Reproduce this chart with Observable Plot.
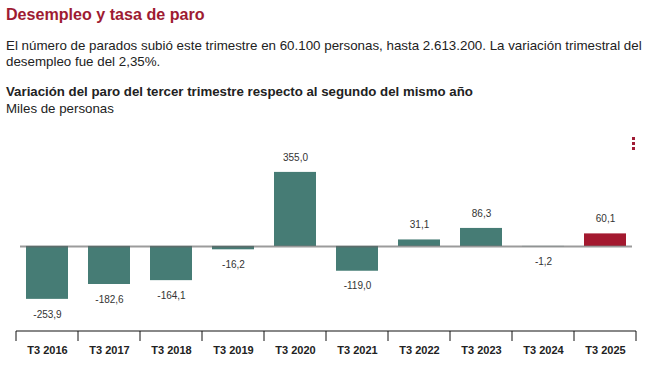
<!DOCTYPE html>
<html><head><meta charset="utf-8">
<script src="https://cdn.jsdelivr.net/npm/d3@7"></script>
<script src="https://cdn.jsdelivr.net/npm/@observablehq/plot@0.6"></script>
<style>
body{margin:0;background:#fff;font-family:"Liberation Sans",Arial,sans-serif;}
#head{position:relative;height:120px;width:654px;}
.t{position:absolute;left:6px;white-space:nowrap;color:#222;}
.dot{position:absolute;left:632px;width:3px;height:3px;background:#a01c35;}
#chart svg{display:block;}
</style></head><body>
<div id="head">
<div class="t" style="top:4px;font-size:16.1px;line-height:20px;font-weight:bold;color:#9e1b32">Desempleo y tasa de paro</div>
<div class="t" style="top:38px;font-size:13.35px;line-height:16px;">El número de parados subió este trimestre en 60.100 personas, hasta 2.613.200. La variación trimestral del<br>desempleo fue del 2,35%.</div>
<div class="t" style="top:84px;font-size:13.25px;line-height:16px;font-weight:bold;">Variación del paro del tercer trimestre respecto al segundo del mismo año</div>
<div class="t" style="top:101px;font-size:13.3px;line-height:16px;">Miles de personas</div>
</div>
<div class="dot" style="top:137px"></div>
<div class="dot" style="top:142px"></div>
<div class="dot" style="top:147px"></div>
<div id="chart"></div>
<script>
const years = ["T3 2016","T3 2017","T3 2018","T3 2019","T3 2020","T3 2021","T3 2022","T3 2023","T3 2024","T3 2025"];
const values = [-253.9, -182.6, -164.1, -16.2, 355.0, -119.0, 31.1, 86.3, -1.2, 60.1];
const highlight = "T3 2025";
const teal = "#467c75", red = "#a3192f";
const fmt = v => d3.format(".1f")(v).replace(".", ",").replace("−", "-");
const data = years.map((y, i) => ({year: y, value: values[i], label: fmt(values[i]), color: y === highlight ? red : teal}));

function bottomAxis(index, scales, vals, dims) {
  const x = scales.x;
  const bw = x.bandwidth();
  const pos = years.map(d => x(d));
  const step = pos[1] - pos[0];
  const gap = (step - bw) / 2;
  const bounds = pos.map(p => p - gap).concat([pos[pos.length - 1] + bw + gap]);
  const yb = dims.height - dims.marginBottom;
  const g = d3.create("svg:g");
  g.append("line").attr("x1", bounds[0]).attr("x2", bounds[bounds.length - 1])
    .attr("y1", yb).attr("y2", yb).attr("stroke", "#888").attr("stroke-width", 2);
  g.selectAll("line.tk").data(bounds).join("line").attr("class", "tk")
    .attr("x1", d => d).attr("x2", d => d).attr("y1", yb).attr("y2", yb + 10)
    .attr("stroke", "#111").attr("stroke-width", 1);
  return g.node();
}

const chart = Plot.plot({
  width: 654, height: 246,
  marginLeft: 16, marginRight: 18, marginTop: 20, marginBottom: 35,
  x: {domain: years, paddingInner: 0.32, paddingOuter: 0.16, axis: null},
  y: {domain: [-408, 508], axis: null},
  color: {type: "identity"},
  style: {fontFamily: '"Liberation Sans", Arial, sans-serif', background: "white", overflow: "visible"},
  marks: [
    Plot.barY(data, {x: "year", y: "value", fill: "color"}),
    Plot.ruleY([0], {stroke: "#666", strokeWidth: 2, strokeOpacity: 0.65, insetLeft: 4, insetRight: 4}),
    Plot.text(data.filter(d => d.value >= 0), {x: "year", y: "value", text: "label", dy: -15, fontSize: 10, fill: "#333"}),
    Plot.text(data.filter(d => d.value < 0), {x: "year", y: "value", text: "label", dy: 15, fontSize: 10, fill: "#333"}),
    Plot.axisX({tickSize: 0, tickPadding: 15, fontSize: 11, fontWeight: "bold", fill: "#222", label: null}),
    bottomAxis
  ]
});
document.getElementById("chart").append(chart);
</script>
</body></html>
